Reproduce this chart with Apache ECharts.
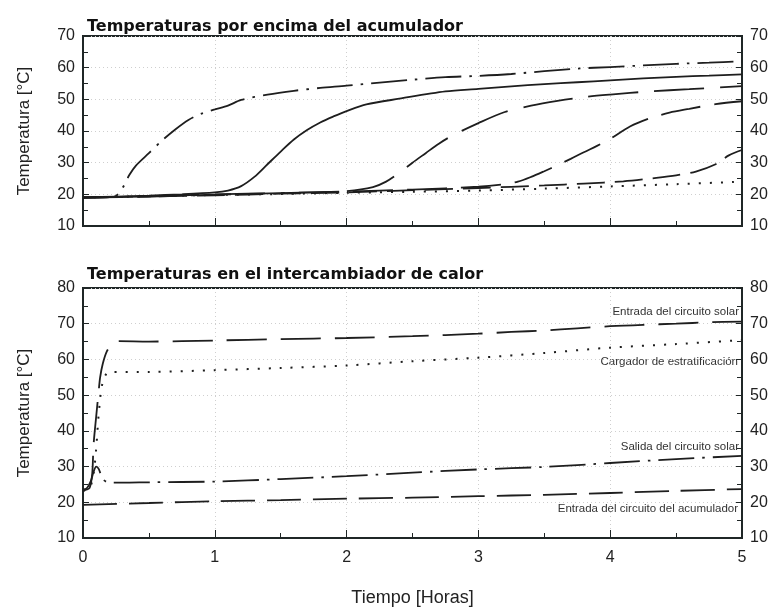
<!DOCTYPE html>
<html><head><meta charset="utf-8">
<script src="https://cdn.jsdelivr.net/npm/echarts@6/dist/echarts.min.js"></script>
<style>html,body{margin:0;padding:0;background:#fff}#c{width:777px;height:614px}</style>
</head><body><div id="c"></div>
<script>
// ---- data (hours, °C) ----
// Top panel: temperatures above the storage tank
const topT1X = [0,0.1,0.2,0.25,0.3,0.35,0.4,0.5,0.6,0.7,0.8,0.9,1.0,1.1,1.2,1.4,1.6,1.8,2.0,2.25,2.5,2.75,3.0,3.25,3.5,3.75,4.0,4.25,4.5,4.75,5.0];
const topT1Y = [19,19,19.1,19.5,22,26,29,33,37,40.5,43.5,45.5,46.8,48,49.8,51.5,52.7,53.6,54.3,55.3,56.2,57,57.4,58,58.9,59.7,60.2,60.7,61.2,61.6,62];
const topT2X = [0,0.25,0.5,0.75,1.0,1.1,1.2,1.3,1.4,1.5,1.6,1.7,1.8,1.9,2.0,2.15,2.4,2.75,3.0,3.25,3.5,3.75,4.0,4.25,4.5,4.75,5.0];
const topT2Y = [19,19.3,19.6,20,20.6,21.2,22.6,25.5,29.5,33.5,37.3,40.3,42.7,44.6,46.3,48.4,50.2,52.5,53.3,54.1,54.8,55.4,56,56.6,57.1,57.5,57.9];
const topT3X = [0,0.5,1.0,1.5,1.8,2.0,2.2,2.3,2.4,2.5,2.6,2.7,2.8,3.0,3.2,3.4,3.6,3.8,4.0,4.3,4.6,5.0];
const topT3Y = [19,19.4,20,20.4,20.7,21,22.3,24,26.8,30,33,36,38.5,42.5,46,48,49.5,50.7,51.5,52.5,53.2,54.2];
const topT4X = [0,0.5,1.0,1.5,2.0,2.5,3.0,3.2,3.3,3.4,3.5,3.6,3.7,3.8,3.9,4.0,4.15,4.3,4.45,4.6,4.8,5.0];
const topT4Y = [19,19.3,19.9,20.4,20.9,21.5,22.4,23.2,24,25.5,27.3,29.2,31.2,33.3,35.3,37.5,41.4,44,45.8,47,48.5,49.4];
const topT5X = [0,0.5,1.0,1.5,2.0,2.5,3.0,3.5,3.8,4.1,4.35,4.5,4.65,4.8,4.9,5.0];
const topT5Y = [19,19.3,19.7,20.2,20.6,21.3,22,22.8,23.4,24.1,25.2,26,27.2,29.5,32.3,34];
const topT6X = [0,0.5,1,1.5,2,2.5,3,3.5,4,4.5,5];
const topT6Y = [19,19.4,19.8,20.1,20.5,20.8,21.2,21.8,22.5,23.2,24];

// Bottom panel: heat exchanger temperatures
const solarInX = [0,0.02,0.05,0.07,0.08,0.1,0.12,0.13,0.15,0.18,0.22,0.27,0.5,1.0,1.5,2.0,2.5,3.0,3.25,3.5,3.75,4.0,4.25,4.5,4.75,5.0];
const solarInY = [23,23.5,24,28,36,44,51.5,55,58.8,62.2,64.2,65.1,65,65.3,65.7,66,66.5,67.2,67.7,68.1,68.7,69.3,69.7,70,70.4,70.6];
const stratX = [0,0.05,0.08,0.1,0.12,0.15,0.2,0.5,1.0,1.5,2.0,2.5,3.0,3.5,4.0,4.5,5.0];
const stratY = [23.5,24,28,35,45,53.7,56.5,56.5,57,57.6,58.3,59.5,60.5,61.8,63.3,64.3,65.4];
const solarOutX = [0,0.03,0.06,0.08,0.1,0.12,0.15,0.2,0.3,0.5,1.0,1.5,2.0,2.5,3.0,3.5,4.0,4.5,5.0];
const solarOutY = [23.5,24,26,28.5,30,29.3,26.5,25.5,25.5,25.6,25.8,26.5,27.3,28.3,29.2,29.9,31,32.1,33];
const tankInX = [0,0.5,1,1.5,2,2.5,3,3.5,4,4.5,5];
const tankInY = [19.3,19.8,20.3,20.6,21,21.3,21.7,22.1,22.6,23.2,23.7];

const xTicks = [0,1,2,3,4,5];
const topYTicks = [10,20,30,40,50,60,70];
const botYTicks = [10,20,30,40,50,60,70,80];
const titles = ['Temperaturas por encima del acumulador','Temperaturas en el intercambiador de calor'];
const yName = 'Temperatura [°C]';
const xName = 'Tiempo [Horas]';
const curveLabels = ['Entrada del circuito solar','Cargador de estratificación','Salida del circuito solar','Entrada del circuito del acumulador'];

// ---- chart ----
const zip = (xs, ys) => xs.map((x, i) => [x, ys[i]]);
const INK = '#1f2626';
const FONT = 'Liberation Sans';

function xAxis(grid, labels) {
  return {
    type: 'value', gridIndex: grid, min: xTicks[0], max: xTicks[xTicks.length-1], interval: 1,
    axisLine: {show: true, onZero: false, lineStyle: {color: INK, width: 2}},
    axisTick: {show: true, inside: true, length: 8, lineStyle: {color: INK, width: 1}},
    minorTick: {show: true, splitNumber: 2, length: 5, lineStyle: {color: INK, width: 1}},
    axisLabel: {show: labels, color: '#222', fontSize: 16, fontFamily: FONT, margin: 12},
    splitLine: {show: true, lineStyle: {color: '#cfcfcf', type: [1, 3], width: 1}},
    name: labels ? xName : '', nameLocation: 'middle', nameGap: 51,
    nameTextStyle: {color: '#222', fontSize: 18, fontFamily: FONT}
  };
}
function yAxis(grid, ticks, pos) {
  const left = pos === 'left';
  return {
    type: 'value', gridIndex: grid, position: pos, min: ticks[0], max: ticks[ticks.length-1], interval: 10,
    axisLine: {show: true, onZero: false, lineStyle: {color: INK, width: 2}},
    axisTick: {show: true, inside: true, length: 6, lineStyle: {color: INK, width: 1}},
    minorTick: {show: true, splitNumber: 2, length: 5, lineStyle: {color: INK, width: 1}},
    axisLabel: {color: '#222', fontSize: 16, fontFamily: FONT, margin: 8},
    splitLine: {show: left, lineStyle: {color: '#cfcfcf', type: [1, 3], width: 1}},
    name: left ? yName : '', nameLocation: 'middle', nameGap: 50, nameRotate: 90,
    nameTextStyle: {color: '#222', fontSize: 17, fontFamily: FONT}
  };
}
function line(grid, xs, ys, dash, w) {
  return {
    type: 'line', xAxisIndex: grid, yAxisIndex: grid * 2, data: zip(xs, ys),
    showSymbol: false, smooth: 0.3, animation: false,
    lineStyle: {color: '#1e1e1e', width: w || 1.8, type: dash, cap: 'butt'}
  };
}
const DASHDOT = [36, 8, 2.5, 8];
const DOT = [2, 9];

const chart = echarts.init(document.getElementById('c'), null, {renderer: 'canvas'});
chart.setOption({
  animation: false,
  backgroundColor: '#fff',
  title: [
    {text: titles[0], left: 82, top: 14, textStyle: {fontSize: 16, fontWeight: 'bold', color: '#111', fontFamily: 'DejaVu Sans'}},
    {text: titles[1], left: 82, top: 262, textStyle: {fontSize: 16, fontWeight: 'bold', color: '#111', fontFamily: 'DejaVu Sans'}}
  ],
  grid: [
    {left: 83, right: 35, top: 36, height: 190, show: true, borderColor: INK, borderWidth: 2, backgroundColor: 'transparent'},
    {left: 83, right: 35, top: 288, height: 250, show: true, borderColor: INK, borderWidth: 2, backgroundColor: 'transparent'}
  ],
  xAxis: [xAxis(0, false), xAxis(1, true)],
  yAxis: [yAxis(0, topYTicks, 'left'), yAxis(0, topYTicks, 'right'), yAxis(1, botYTicks, 'left'), yAxis(1, botYTicks, 'right')],
  series: [
    line(0, topT1X, topT1Y, DASHDOT),
    line(0, topT2X, topT2Y, 'solid'),
    line(0, topT3X, topT3Y, [50, 16]),
    line(0, topT4X, topT4Y, [40, 14]),
    line(0, topT5X, topT5Y, [28, 10]),
    line(0, topT6X, topT6Y, DOT, 2),
    line(1, solarInX, solarInY, [40, 14]),
    line(1, stratX, stratY, DOT, 2),
    line(1, solarOutX, solarOutY, DASHDOT),
    line(1, tankInX, tankInY, [34, 12])
  ],
  graphic: [
    {type: 'text', right: 38, top: 306, style: {text: curveLabels[0], fontSize: 11.5, fontFamily: FONT, fill: '#333'}},
    {type: 'text', right: 39, top: 356, style: {text: curveLabels[1], fontSize: 11.5, fontFamily: FONT, fill: '#333'}},
    {type: 'text', right: 38, top: 441, style: {text: curveLabels[2], fontSize: 11.5, fontFamily: FONT, fill: '#333'}},
    {type: 'text', right: 39, top: 503, style: {text: curveLabels[3], fontSize: 11.5, fontFamily: FONT, fill: '#333'}}
  ]
});
</script></body></html>
